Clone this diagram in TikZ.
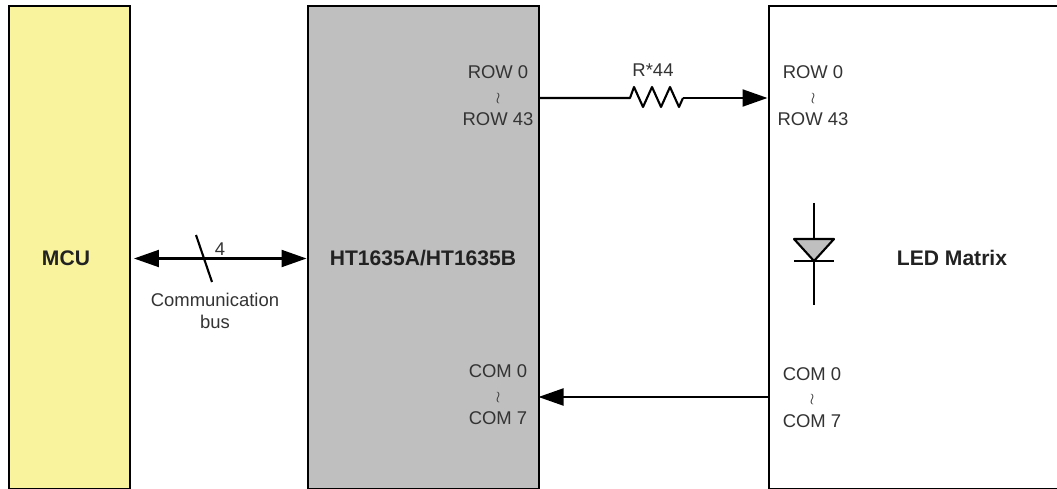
\documentclass[tikz,border=0pt]{standalone}
\usepackage{fontspec}
\setmainfont{Liberation Sans}
\usetikzlibrary{arrows.meta}
\definecolor{mcuyellow}{HTML}{F8F39C}
\definecolor{chipgray}{HTML}{BFBFBF}
\definecolor{labelgray}{HTML}{333333}
\definecolor{titlegray}{HTML}{222222}
\tikzset{
    block/.style={draw=black, line width=1.1pt, minimum height=9.66cm, inner sep=0pt, anchor=north west},
    portlabel/.style={text=labelgray, align=center, inner sep=0pt, font=\fontsize{10.5}{13.4}\selectfont},
    blocklabel/.style={text=titlegray, inner sep=0pt, font=\fontsize{12}{14}\selectfont\bfseries},
    signal/.style={line width=1.2pt, -{Triangle[length=0.5cm,width=0.34cm]}},
    busline/.style={line width=1.2pt, {Triangle[length=0.5cm,width=0.34cm]}-{Triangle[length=0.5cm,width=0.34cm]}},
    wire/.style={line width=1.2pt},
}
\newcommand{\squiggle}{{\small$\wr$}}

\begin{document}
\begin{tikzpicture}[x=0.02cm,y=-0.02cm]
    \clip (0,0) rectangle (1057,489);

    \node[block, fill=mcuyellow, minimum width=2.42cm] (mcu) at (8,5) {};
    \node[block, fill=chipgray, minimum width=4.62cm] (chip) at (307,5) {};
    \node[block, fill=white, minimum width=6.4cm] (matrix) at (768,5) {};

    \node[blocklabel] (mcutext) at (66,258) {MCU};
    \node[blocklabel] (chiptext) at (423,258) {HT1635A/HT1635B};
    \node[blocklabel] (matrixtext) at (952,258) {LED Matrix};

    \node[portlabel] (chiprow) at (498,96) {ROW 0\\\squiggle\\ROW 43};
    \node[portlabel] (chipcom) at (498,395) {COM 0\\\squiggle\\COM 7};
    \node[portlabel] (matrixrow) at (813,96) {ROW 0\\\squiggle\\ROW 43};
    \node[portlabel] (matrixcom) at (812,397.5) {COM 0\\\squiggle\\COM 7};

    % bus between mcu and chip
    \coordinate (busleft) at (134,258.5);
    \coordinate (busright) at (306.5,258.5);
    \draw[busline] (busleft) -- (busright);
    \coordinate (slashtop) at (196,235);
    \coordinate (slashend) at (212,282);
    \draw[wire] (slashtop) -- (slashend);
    \node[portlabel] (buswidth) at (220,249) {4};
    \node[portlabel, font=\fontsize{10.5}{12.5}\selectfont] (bustext) at (215,311) {Communication\\bus};

    % row lines with the resistor
    \coordinate (rowstart) at (538,98);
    \coordinate (resleft) at (630,98);
    \coordinate (resright) at (683,98);
    \coordinate (rowend) at (767.5,98);
    \draw[wire, line join=round] (rowstart) -- (resleft) -- (634,87) -- (643,107) -- (652,87) -- (661,107) -- (670,87) -- (679,107) -- (resright);
    \draw[signal] (resright) -- (rowend);
    \node[portlabel] (restext) at (653,70) {R*44};

    % com lines
    \coordinate (comstart) at (768,397);
    \coordinate (comend) at (538.5,397);
    \draw[signal] (comstart) -- (comend);

    % diode
    \coordinate (diodetop) at (814,203);
    \coordinate (diodetip) at (814,261);
    \coordinate (diodeend) at (814,305);
    \draw[wire] (diodetop) -- (diodeend);
    \draw[wire, fill=chipgray, line join=round] (794,239) -- (834,239) -- (diodetip) -- cycle;
    \draw[wire] (794,261) -- (834,261);
\end{tikzpicture}
\end{document}
